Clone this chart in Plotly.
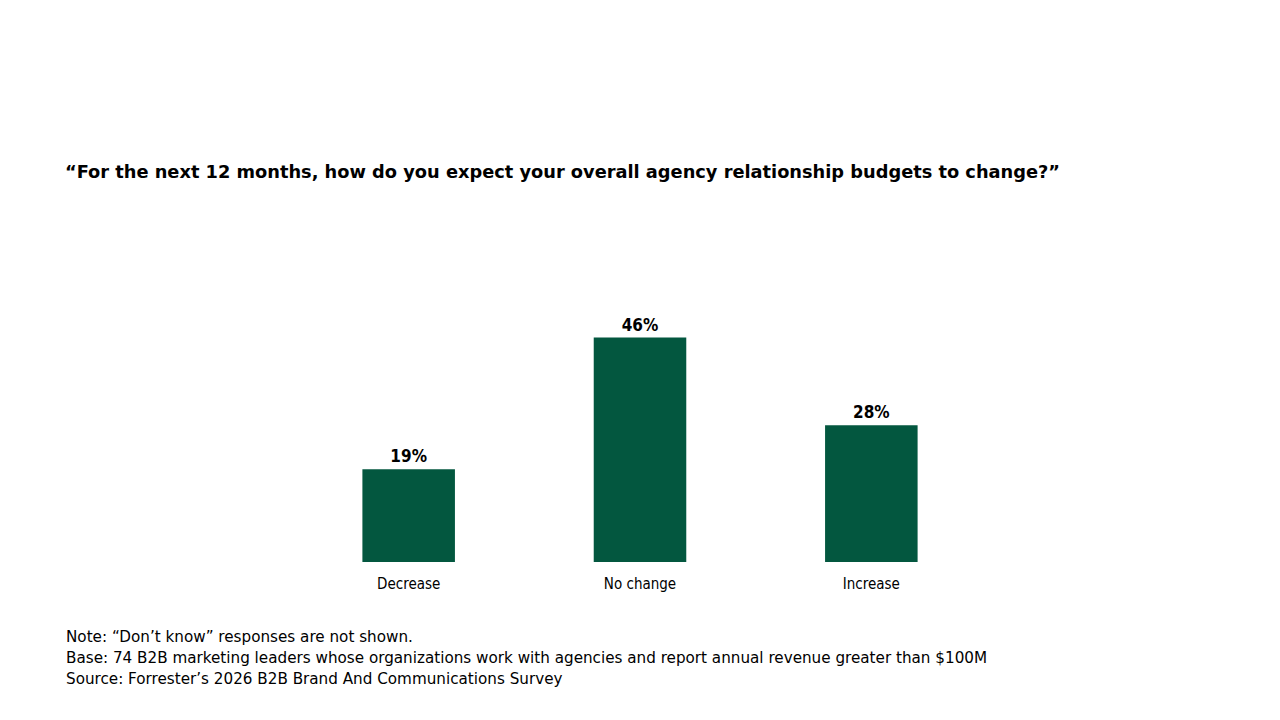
import plotly.graph_objects as go

# survey answers and shares (%)
categories = ["Decrease", "No change", "Increase"]
shares = [19, 46, 28]
labels = [str(v) + "%" for v in shares]

title_text = "\u201cFor the next 12 months, how do you expect your overall agency relationship budgets to change?\u201d"
notes = [
    "Note: \u201cDon\u2019t know\u201d responses are not shown.",
    "Base: 74 B2B marketing leaders whose organizations work with agencies and report annual revenue greater than $100M",
    "Source: Forrester\u2019s 2026 B2B Brand And Communications Survey",
]

# page body has an 8px margin, so pixel targets are shifted by -8
W, H = 1280, 720
ml, mr, mt, mb = 285, 301, 310, 166
pw = W - ml - mr
ph = H - mt - mb

fig = go.Figure()
fig.add_trace(go.Bar(
    x=categories,
    y=shares,
    width=0.4,
    marker=dict(color="#03573F", line=dict(width=0)),
    text=labels,
    textposition="outside",
    textfont=dict(family="DejaVu Sans Condensed, DejaVu Sans", size=17, color="#000000", weight="bold"),
    cliponaxis=False,
    hoverinfo="skip",
))

fig.update_layout(
    width=W,
    height=H,
    margin=dict(l=ml, r=mr, t=mt, b=mb),
    plot_bgcolor="white",
    paper_bgcolor="white",
    showlegend=False,
    font=dict(family="DejaVu Sans, Verdana, sans-serif", color="#000000"),
    title=dict(
        text="<b>" + title_text + "</b>",
        x=57 / W,
        xanchor="left",
        y=1 - 164 / H,
        yanchor="middle",
        font=dict(size=17.8, color="#000000"),
    ),
)

fig.update_xaxes(
    showline=False,
    showgrid=False,
    ticks="",
    ticklabelstandoff=11,
    tickfont=dict(family="DejaVu Sans Condensed, DejaVu Sans", size=15, color="#000000"),
)
fig.update_yaxes(range=[0, 50], visible=False)

# footnotes, placed in pixels from the page edge
for i, line in enumerate(notes):
    fig.add_annotation(
        text=line,
        xref="paper", yref="paper",
        x=(56 - ml) / pw,
        y=(H - mb - (629 + 21 * i)) / ph,
        xanchor="left", yanchor="middle",
        showarrow=False,
        font=dict(size=15.2, color="#000000"),
    )

fig.write_html("out.html")
